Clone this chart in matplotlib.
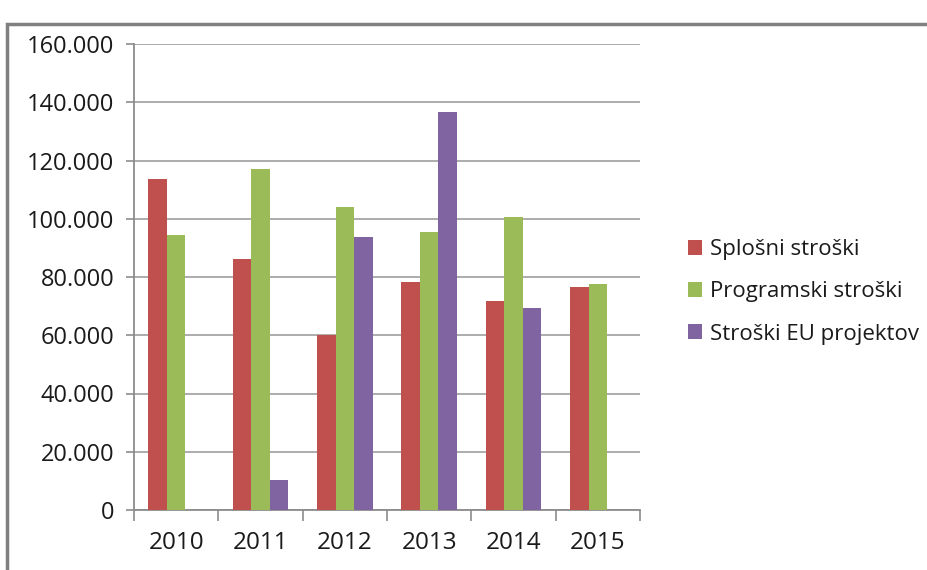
import matplotlib.pyplot as plt
import matplotlib.ticker as mticker
from matplotlib.patches import Rectangle
import numpy as np

plt.rcParams['font.family'] = ['Open Sans', 'DejaVu Sans']

# podatki odčitani z grafa
leta = ["2010", "2011", "2012", "2013", "2014", "2015"]
splosni = [113600, 86200, 60100, 78400, 71900, 76700]
programski = [94500, 117200, 104100, 95300, 100700, 77500]
eu_projekti = [0, 10300, 93700, 136800, 69400, 0]

serije = ["Splošni stroški", "Programski stroški", "Stroški EU projektov"]
barve = ["#C0504D", "#9BBB59", "#8064A2"]


def fmt_tisoc(v, pos):
    if v == 0:
        return "0"
    return "{:,.0f}".format(v).replace(",", ".")


def main():
    fig = plt.figure(figsize=(9.28, 5.70), dpi=100)
    ax = fig.add_axes([134 / 928, 60 / 570, (640 - 134) / 928, (510 - 44) / 570])

    x = np.arange(len(leta))
    w = 0.22
    for i, (vals, name, c) in enumerate(zip([splosni, programski, eu_projekti], serije, barve)):
        ax.bar(x + (i - 1) * w, vals, width=w, color=c, label=name, linewidth=0, zorder=3)

    ax.set_xlim(-0.5, len(leta) - 0.5)
    ax.set_ylim(0, 160000)
    ax.yaxis.set_major_locator(mticker.MultipleLocator(20000))
    ax.yaxis.set_major_formatter(mticker.FuncFormatter(fmt_tisoc))
    ax.grid(axis="y", color="#a6a6a6", linewidth=1.3, zorder=0)

    ax.set_xticks(x)
    ax.set_xticklabels(leta)
    ax.set_xticks(np.arange(-0.5, len(leta), 1), minor=True)
    ax.tick_params(axis="x", which="major", length=0, labelsize=17.5, pad=15, colors="#1a1a1a")
    ax.tick_params(axis="x", which="minor", length=8, width=1.2, color="#8c8c8c")
    ax.tick_params(axis="y", length=6, width=1.2, color="#8c8c8c", labelsize=17, pad=8, labelcolor="#1a1a1a")

    for s in ["top", "right"]:
        ax.spines[s].set_visible(False)
    for s in ["left", "bottom"]:
        ax.spines[s].set_color("#8c8c8c")
        ax.spines[s].set_linewidth(1.3)

    leg = ax.legend(loc="center left", bbox_to_anchor=(668 / 928, (570 - 292) / 570),
                    bbox_transform=fig.transFigure, frameon=False, fontsize=16,
                    handlelength=0.65, handleheight=0.65, handletextpad=0.35, labelspacing=0.95)
    for t in leg.get_texts():
        t.set_color("#1a1a1a")

    # okvir slike
    fig.patches.append(Rectangle((7 / 928, -0.2), 1.2, (570 - 24) / 570 + 0.2,
                                 transform=fig.transFigure, fill=False,
                                 edgecolor="#808080", linewidth=2.5))

    fig.savefig("out.png", dpi=100)


if __name__ == "__main__":
    main()
